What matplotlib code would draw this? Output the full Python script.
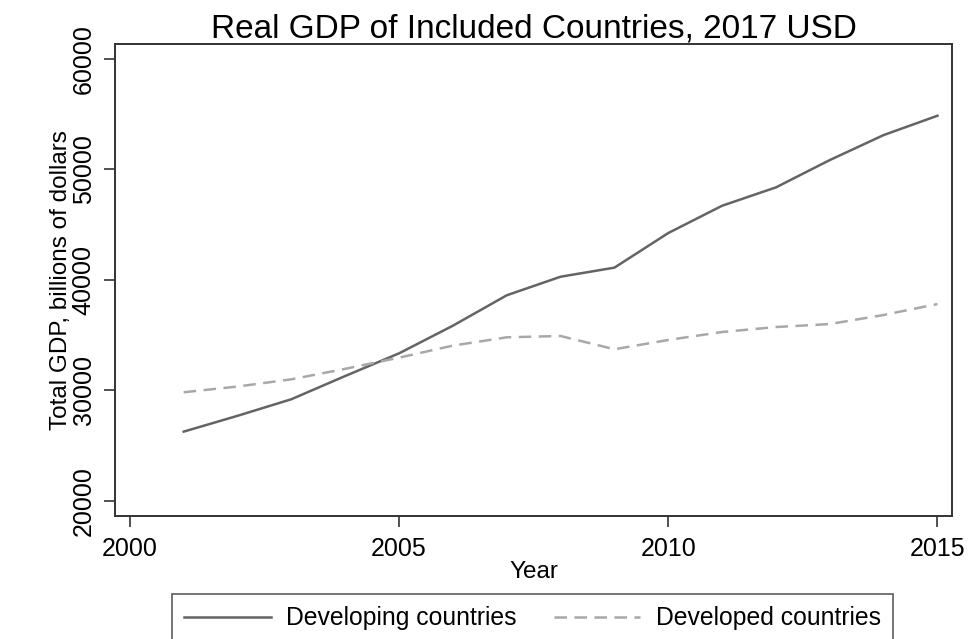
import matplotlib.pyplot as plt

years = list(range(2001, 2016))
developing = [26270, 27700, 29200, 31300, 33350, 35850, 38600, 40280, 41100,
              44230, 46700, 48360, 50830, 53090, 54840]
developed = [29830, 30350, 31000, 31950, 32960, 34050, 34800, 34920, 33720,
             34560, 35280, 35730, 36000, 36820, 37810]
xticks = [2000, 2005, 2010, 2015]
yticks = [20000, 30000, 40000, 50000, 60000]

plt.rcParams['font.family'] = ['Liberation Sans', 'DejaVu Sans']

fig = plt.figure(figsize=(9.72, 6.39), dpi=100)
ax = fig.add_axes([115.3 / 972, 1 - 516 / 639, (952 - 115.3) / 972, (516 - 44.3) / 639])

l1, = ax.plot(years, developing, color='#646464', lw=1.8, label='Developing countries')
l2, = ax.plot(years, developed, color='#a8a8a8', lw=1.8, ls=(0, (5, 3)),
              label='Developed countries')

ax.set_xlim(1999.73, 2015.27)
ax.set_ylim(18640, 61300)
ax.set_xticks(xticks)
ax.set_yticks(yticks)
ax.tick_params(axis='both', labelsize=18, length=8, width=1.2, color='#333333')
ax.tick_params(axis='x', pad=7)
ax.tick_params(axis='y', pad=6)
plt.setp(ax.get_yticklabels(), rotation=90, va='center')
for s in ax.spines.values():
    s.set_linewidth(1.4)
    s.set_color('#333333')

ax.set_title('Real GDP of Included Countries, 2017 USD', fontsize=24, pad=4)
ax.set_xlabel('Year', fontsize=17.5, labelpad=0)
ax.set_ylabel('Total GDP, billions of dollars', fontsize=17.5, labelpad=0)

leg = fig.legend(handles=[l1, l2], loc='upper left', bbox_to_anchor=(172 / 972, 1 - 594 / 639),
                 ncol=2, fontsize=17.8, frameon=True, fancybox=False, edgecolor='#333333',
                 handlelength=3.5, handletextpad=0.62, columnspacing=1.5,
                 borderpad=0.5, borderaxespad=0)
leg.get_frame().set_linewidth(1.2)

fig.savefig('out.png', dpi=100)
